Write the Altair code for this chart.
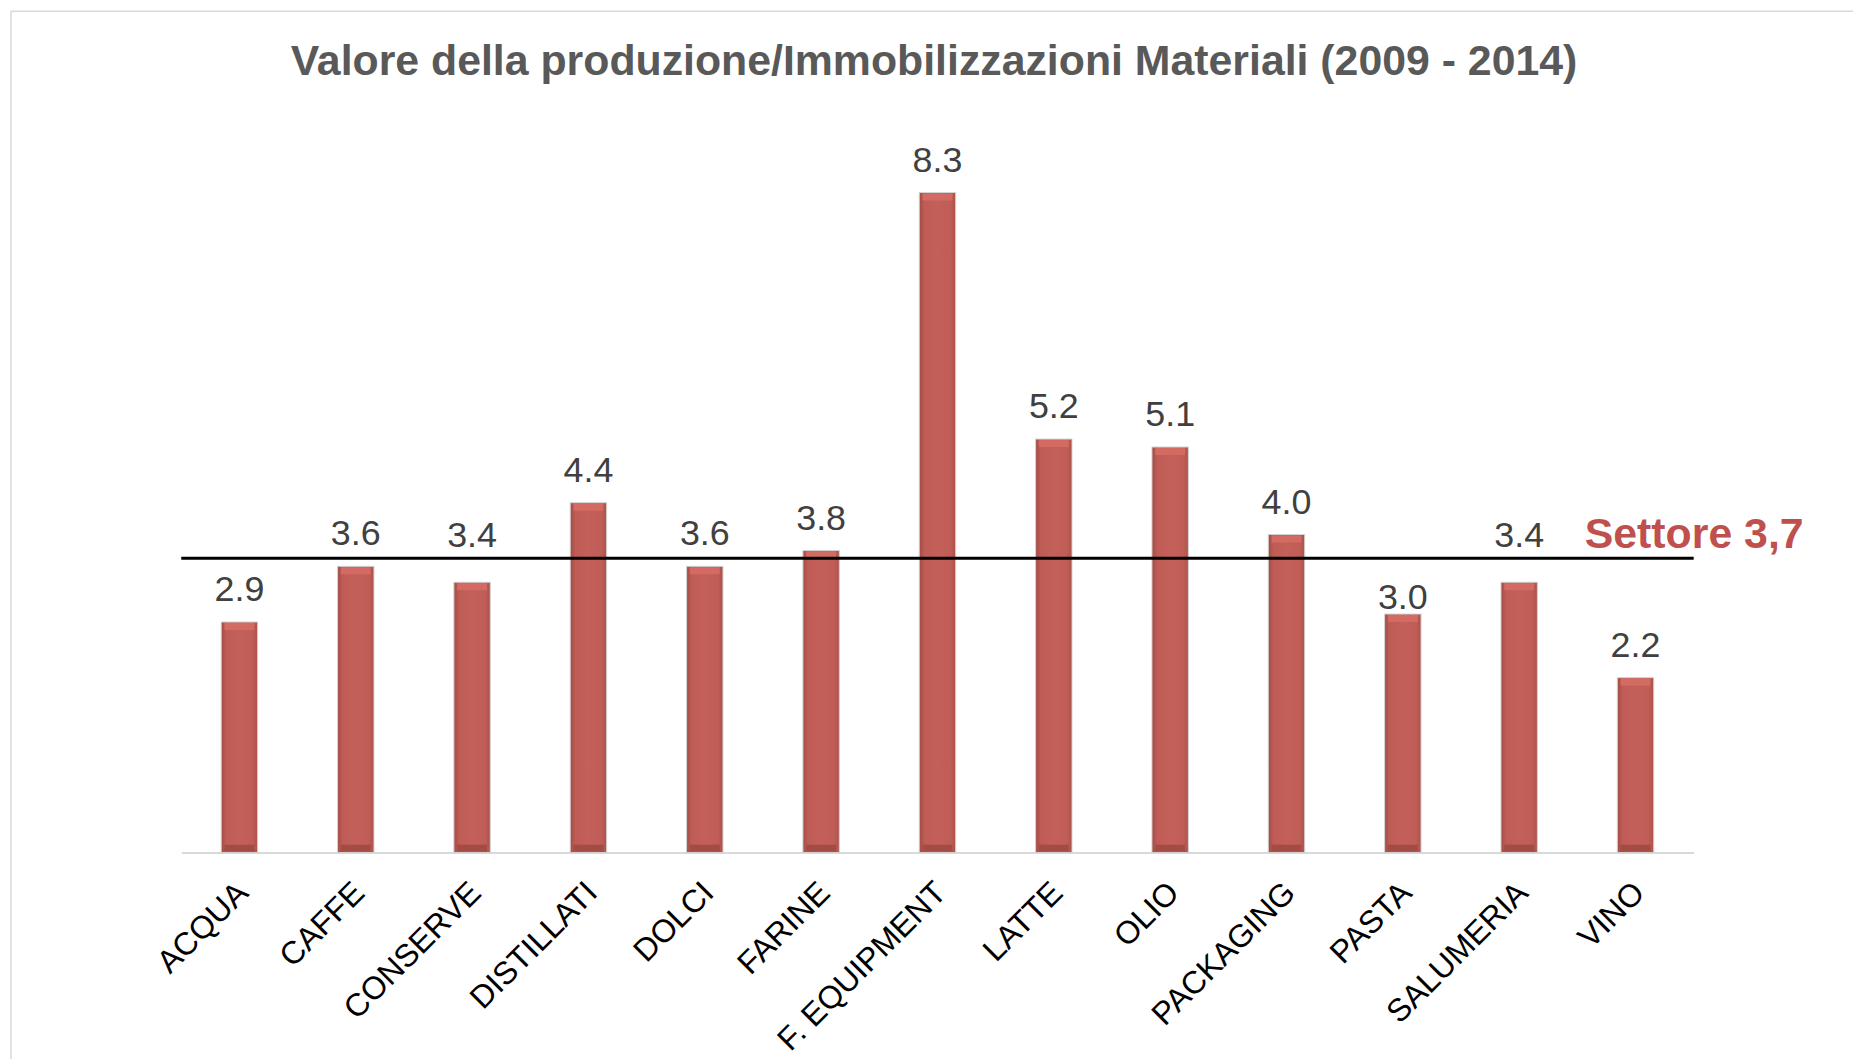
import altair as alt
import pandas as pd

categories = ["ACQUA", "CAFFE", "CONSERVE", "DISTILLATI", "DOLCI", "FARINE",
              "F. EQUIPMENT", "LATTE", "OLIO", "PACKAGING", "PASTA", "SALUMERIA", "VINO"]
values = [2.9, 3.6, 3.4, 4.4, 3.6, 3.8, 8.3, 5.2, 5.1, 4.0, 3.0, 3.4, 2.2]
sector_value = 3.7
sector_label = "Settore 3,7"
title_text = "Valore della produzione/Immobilizzazioni Materiali (2009 - 2014)"

# labels nudged in the original to avoid the sector line
raised_labels = ["CONSERVE", "SALUMERIA"]
lowered_labels = ["PASTA"]

W, H = 1519, 754
FONT = "Liberation Sans"
BAR_RED = "#C4605A"

df = pd.DataFrame({"categoria": categories, "valore": values})
sector_df = pd.DataFrame({"categoria": [categories[-1]], "valore": [sector_value], "label": [sector_label]})
title_df = pd.DataFrame({"titolo": [title_text]})
frame_df = pd.DataFrame({"k": [0]})

x_scale = alt.Scale(paddingInner=0.687, paddingOuter=0.3435)
y_scale = alt.Scale(domain=[0, 9.44], nice=False, zero=True)

x_axis_enc = alt.X(
    "categoria:N", sort=categories, scale=x_scale,
    axis=alt.Axis(title=None, labelAngle=-45, labelFontSize=32, labelColor="#000000",
                  labelFont=FONT, ticks=False, labelPadding=24, labelOffset=-7,
                  labelLimit=0, domainColor="#D9D9D9", domainWidth=2, grid=False,
                  labelOverlap=False),
)
x_enc = alt.X("categoria:N", sort=categories, scale=x_scale)
y_enc = alt.Y("valore:Q", scale=y_scale, axis=None)

gradient = alt.Gradient(
    gradient="linear", x1=0, x2=1, y1=0, y2=0,
    stops=[
        alt.GradientStop(color="#A24B45", offset=0),
        alt.GradientStop(color="#BF5C55", offset=0.14),
        alt.GradientStop(color=BAR_RED, offset=0.5),
        alt.GradientStop(color="#C05D56", offset=0.86),
        alt.GradientStop(color="#AB524C", offset=1),
    ],
)

base = alt.Chart(df)

# light page frame of the original slide
frame = alt.Chart(frame_df).mark_rect(filled=False, stroke="#D9D9D9", strokeWidth=1.5).encode(
    x=alt.value(-171), x2=alt.value(W + 300), y=alt.value(-91), y2=alt.value(H + 300))

title = alt.Chart(title_df).mark_text(
    align="center", baseline="alphabetic", font=FONT, fontSize=43, fontWeight="bold",
    color="#595959",
).encode(x=alt.value(W / 2 - 3.5), y=alt.value(-27), text="titolo:N")

bars = base.mark_bar(color=gradient, stroke="#D4D4D4", strokeWidth=1).encode(x=x_axis_enc, y=y_enc)

top_cap = base.mark_tick(color="#D56D65", thickness=7, size=30, yOffset=4.5, opacity=0.9).encode(
    x=x_enc, y=y_enc)
bottom_cap = base.transform_calculate(zero="0").mark_tick(
    color="#A04A44", thickness=7, size=30, yOffset=-4.5, opacity=0.9).encode(
    x=x_enc, y=alt.Y("zero:Q", scale=y_scale, axis=None))

all_special = raised_labels + lowered_labels


def in_list_expr(lst):
    return "indexof([" + ",".join("'" + s + "'" for s in lst) + "], datum.categoria) >= 0"


text_kw = dict(baseline="alphabetic", fontSize=36, font=FONT, color="#404040")
text_enc = dict(x=x_enc, y=y_enc, text=alt.Text("valore:Q", format=".1f"))

labels_normal = base.transform_filter("!(" + in_list_expr(all_special) + ")").mark_text(
    dy=-21, **text_kw).encode(**text_enc)
labels_raised = base.transform_filter(in_list_expr(raised_labels)).mark_text(
    dy=-35, **text_kw).encode(**text_enc)
labels_lowered = base.transform_filter(in_list_expr(lowered_labels)).mark_text(
    dy=-5, **text_kw).encode(**text_enc)

sector_rule = alt.Chart(sector_df).mark_rule(color="#000000", strokeWidth=3).encode(y=y_enc)
sector_text = alt.Chart(sector_df).mark_text(
    align="left", baseline="alphabetic", dx=-51, dy=-10, fontSize=43, fontWeight="bold",
    font=FONT, color="#C0504D",
).encode(x=x_enc, y=y_enc, text="label:N")

chart = alt.layer(
    frame, title, bars, top_cap, bottom_cap, sector_rule,
    labels_normal, labels_raised, labels_lowered, sector_text,
).properties(
    width=W, height=H,
    autosize=alt.AutoSizeParams(type="none"),
    padding={"left": 174, "top": 92, "right": 160, "bottom": 205},
).configure_view(stroke=None)

chart.save("out.html", embed_options={"renderer": "svg", "actions": False})
